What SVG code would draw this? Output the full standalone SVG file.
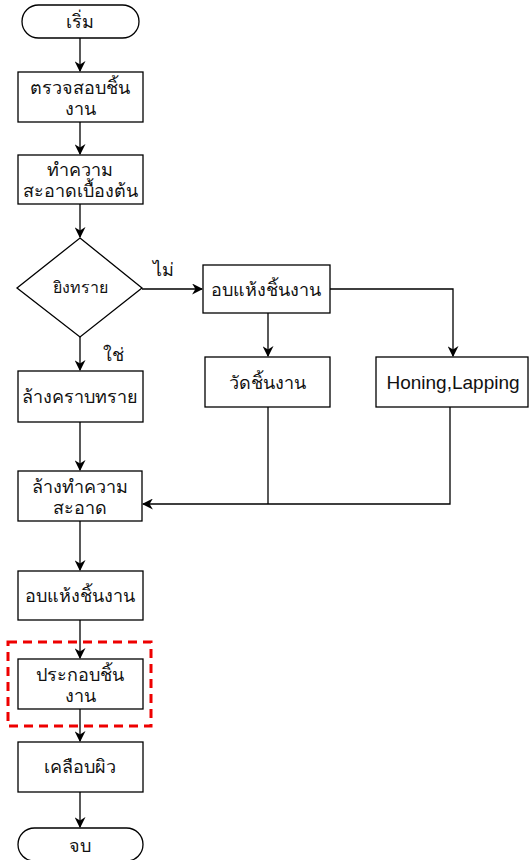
<svg xmlns="http://www.w3.org/2000/svg" width="529" height="860" viewBox="0 0 529 860">
<defs>
<style>
.n{fill:#fff;stroke:#000;stroke-width:1.3}
.t{font-family:"Liberation Sans","Noto Sans",sans-serif;font-size:18px;fill:#111;text-anchor:middle}
.s{font-size:16px}
.h{font-size:19px}
.c{fill:none;stroke:#000;stroke-width:1.3}
</style>
<marker id="a" viewBox="0 0 10 10" refX="9" refY="5" markerWidth="11" markerHeight="11" markerUnits="userSpaceOnUse" orient="auto">
<path d="M0,0 L10,5 L0,10 L3,5 Z" fill="#000"/>
</marker>
</defs>
<rect width="529" height="860" fill="#fff"/>
<g id="connectors">
<line class="c" x1="80" y1="38" x2="80" y2="71" marker-end="url(#a)"/>
<line class="c" x1="80" y1="122" x2="80" y2="154" marker-end="url(#a)"/>
<line class="c" x1="80" y1="204" x2="80" y2="237" marker-end="url(#a)"/>
<line class="c" x1="142" y1="289" x2="202" y2="289" marker-end="url(#a)"/>
<line class="c" x1="80" y1="337" x2="80" y2="370" marker-end="url(#a)"/>
<line class="c" x1="268" y1="313" x2="268" y2="356" marker-end="url(#a)"/>
<polyline class="c" points="330,289 453,289 453,356" marker-end="url(#a)"/>
<polyline class="c" points="268,407 268,504"/>
<polyline class="c" points="450,407 450,504 143,504" marker-end="url(#a)"/>
<line class="c" x1="80" y1="422" x2="80" y2="470" marker-end="url(#a)"/>
<line class="c" x1="80" y1="521" x2="80" y2="570" marker-end="url(#a)"/>
<line class="c" x1="80" y1="620" x2="80" y2="658" marker-end="url(#a)"/>
<line class="c" x1="80" y1="709" x2="80" y2="741" marker-end="url(#a)"/>
<line class="c" x1="80" y1="792" x2="80" y2="827" marker-end="url(#a)"/>
<text class="t" x="163" y="276">ไม่</text>
<text class="t" x="113" y="361">ใช่</text>
</g>
<g id="start"><rect class="n" x="22" y="5" width="117" height="33" rx="16.5"/><text class="t" x="80" y="28">เริ่ม</text></g>
<g id="inspect"><rect class="n" x="18" y="72" width="125" height="50"/><text class="t" x="80" y="94">ตรวจสอบชิ้น</text><text class="t" x="80" y="115">งาน</text></g>
<g id="preclean"><rect class="n" x="18" y="155" width="125" height="49"/><text class="t" x="80" y="176">ทำความ</text><text class="t" x="80" y="197">สะอาดเบื้องต้น</text></g>
<g id="decision"><polygon class="n" points="80,238 142,288 80,337 17,288"/><text class="t s" x="80" y="293">ยิงทราย</text></g>
<g id="dry1"><rect class="n" x="203" y="265" width="127" height="48"/><text class="t" x="266" y="296">อบแห้งชิ้นงาน</text></g>
<g id="measure"><rect class="n" x="205" y="357" width="125" height="50"/><text class="t" x="267" y="389">วัดชิ้นงาน</text></g>
<g id="honing"><rect class="n" x="376" y="357" width="152" height="50"/><text class="t h" x="453" y="389">Honing,Lapping</text></g>
<g id="sandwash"><rect class="n" x="18" y="371" width="125" height="51"/><text class="t" x="80" y="403">ล้างคราบทราย</text></g>
<g id="wash"><rect class="n" x="18" y="471" width="124" height="50"/><text class="t" x="80" y="493">ล้างทำความ</text><text class="t" x="80" y="514">สะอาด</text></g>
<g id="dry2"><rect class="n" x="18" y="571" width="125" height="49"/><text class="t" x="80" y="602">อบแห้งชิ้นงาน</text></g>
<g id="highlight"><rect x="8" y="642" width="143" height="84" fill="none" stroke="#e00" stroke-width="3" stroke-dasharray="9,6"/></g>
<g id="assemble"><rect class="n" x="18" y="659" width="125" height="50"/><text class="t" x="80" y="681">ประกอบชิ้น</text><text class="t" x="80" y="702">งาน</text></g>
<g id="coat"><rect class="n" x="18" y="742" width="125" height="50"/><text class="t" x="80" y="773">เคลือบผิว</text></g>
<g id="end"><rect class="n" x="18" y="828" width="125" height="33" rx="16.5"/><text class="t" x="80" y="852">จบ</text></g>
</svg>
